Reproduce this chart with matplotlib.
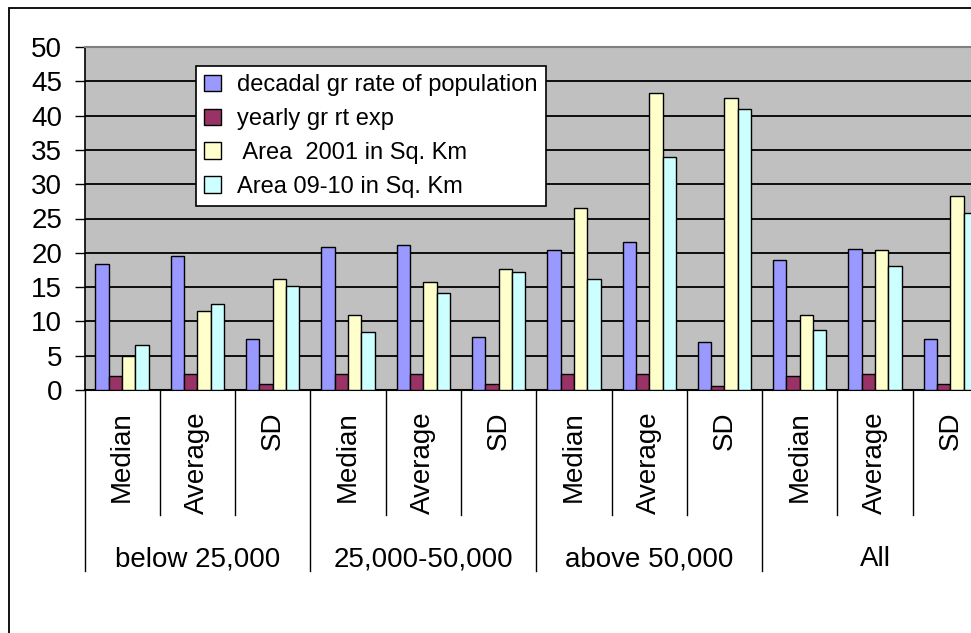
import matplotlib
matplotlib.use("Agg")
import matplotlib.pyplot as plt
import numpy as np
from matplotlib.lines import Line2D
from matplotlib.patches import Rectangle

plt.rcParams['font.family'] = ['Liberation Sans', 'DejaVu Sans']

groups = ["below 25,000", "25,000-50,000", "above 50,000", "All"]
stats = ["Median", "Average", "SD"]

series_names = ["decadal gr rate of population", "yearly gr rt exp",
                " Area  2001 in Sq. Km", "Area 09-10 in Sq. Km"]
decadal = [18.3, 19.6, 7.4, 20.9, 21.1, 7.7, 20.4, 21.55, 7.0, 19.0, 20.6, 7.4]
yearly = [2.1, 2.35, 0.9, 2.35, 2.35, 0.9, 2.35, 2.35, 0.6, 2.1, 2.35, 0.9]
area_2001 = [4.9, 11.5, 16.2, 11.0, 15.7, 17.7, 26.6, 43.25, 42.6, 11.0, 20.4, 28.35]
area_0910 = [6.6, 12.6, 15.1, 8.5, 14.2, 17.25, 16.2, 33.9, 40.9, 8.7, 18.1, 25.75]
colors = ["#9999FF", "#993366", "#FFFFCC", "#CCFFFF"]

W, H = 971, 633
fig = plt.figure(figsize=(W / 100, H / 100), dpi=100)

# plot area runs past the right edge of the figure
x0, y0, x1, y1 = 84.5, 390, 988, 47
ax = fig.add_axes([x0 / W, 1 - y0 / H, (x1 - x0) / W, (y0 - y1) / H])
ax.set_facecolor("#C0C0C0")

n = len(decadal)
x = np.arange(n)
bw = 0.177
for i, (vals, c, lab) in enumerate(zip([decadal, yearly, area_2001, area_0910], colors, series_names)):
    ax.bar(x + (i - 1.5) * bw, vals, bw, color=c, edgecolor="black", linewidth=1.0,
           label=lab, zorder=3)

ax.set_xlim(-0.5, n - 0.5)
ax.set_ylim(0, 50)
ax.set_yticks(range(0, 51, 5))
ax.yaxis.grid(True, color="black", linewidth=1.3, zorder=0)
ax.set_axisbelow(True)
ax.tick_params(axis="y", labelsize=20, length=7, width=1, pad=9)
ax.set_xticks([])
ax.spines["top"].set_color("#808080")
ax.spines["top"].set_linewidth(1.5)
ax.spines["right"].set_visible(False)
ax.spines["left"].set_linewidth(1.2)
ax.spines["bottom"].set_linewidth(1.5)

# two-level category axis drawn below the plot
ah = y0 - y1
trans = ax.get_xaxis_transform()
sub_end = -(515 - y0) / ah
grp_end = -(571 - y0) / ah
for k in range(n + 1):
    end = grp_end if k % 3 == 0 else sub_end
    ax.add_line(Line2D([k - 0.5, k - 0.5], [0, end], transform=trans,
                       color="black", linewidth=1.0, clip_on=False))
for k in range(n):
    ax.text(k, -(411 - y0) / ah, stats[k % 3], transform=trans, rotation=90,
            ha="center", va="top", fontsize=20)
for g, name in enumerate(groups):
    ax.text(3 * g + 1, -(559 - y0) / ah, name, transform=trans,
            ha="center", va="center", fontsize=20)

leg = ax.legend(loc="upper left", bbox_to_anchor=(196 / W, 1 - 66 / H),
                bbox_transform=fig.transFigure, borderaxespad=0, fontsize=17,
                frameon=True, fancybox=False, handlelength=0.7, handleheight=0.7,
                handletextpad=0.7, labelspacing=0.5, borderpad=0.35)
leg.get_frame().set_edgecolor("black")
leg.get_frame().set_linewidth(1.2)
leg.get_frame().set_alpha(1)

# outer chart border
fig.add_artist(Rectangle((9 / W, -0.1), 2, 1 - 8 / H + 0.1, transform=fig.transFigure,
                         fill=False, edgecolor="black", linewidth=1.3))

fig.savefig("out.png", dpi=100)
